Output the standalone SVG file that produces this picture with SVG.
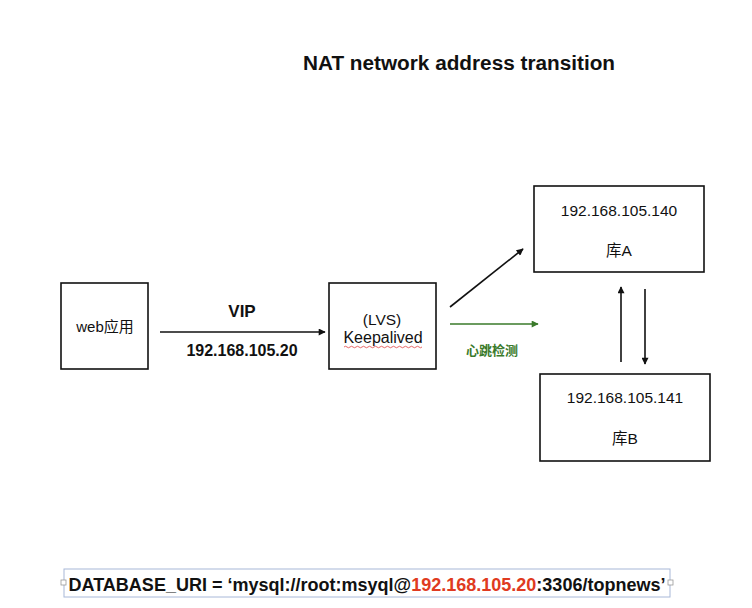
<svg xmlns="http://www.w3.org/2000/svg" width="752" height="608" viewBox="0 0 752 608">
<defs>
<style>
.box{fill:#fff;stroke:#111;stroke-width:1.6}
.t{font-family:"Liberation Sans","Noto Sans CJK SC",Arial,sans-serif;fill:#111;text-anchor:middle}
.b{font-weight:bold}
.ln{stroke:#111;stroke-width:1.6;fill:none}
.gl{stroke:#3a7a2a;stroke-width:1.6;fill:none}
</style>
<marker id="ah" viewBox="0 0 10 10" refX="9" refY="5" markerWidth="8" markerHeight="7" orient="auto" markerUnits="userSpaceOnUse"><path d="M0,0 L10,5 L0,10 z" fill="#111"/></marker>
<marker id="ahg" viewBox="0 0 10 10" refX="9" refY="5" markerWidth="8" markerHeight="7" orient="auto" markerUnits="userSpaceOnUse"><path d="M0,0 L10,5 L0,10 z" fill="#3a7a2a"/></marker>
</defs>
<rect width="752" height="608" fill="#fff"/>
<text class="t b" x="459" y="70" font-size="20" textLength="312" lengthAdjust="spacingAndGlyphs">NAT network address transition</text>

<g id="web">
<rect class="box" x="61" y="283" width="87" height="86"/>
<text class="t" x="105" y="332" font-size="15">web应用</text>
</g>
<g id="lvs">
<rect class="box" x="329" y="283" width="107" height="86"/>
<text class="t" x="382" y="325" font-size="15.5">(LVS)</text>
<text class="t" x="383" y="343" font-size="16">Keepalived</text>
<path d="M344,347 q1.5,-1.5 3,0 t3,0 t3,0 t3,0 t3,0 t3,0 t3,0 t3,0 t3,0 t3,0 t3,0 t3,0 t3,0 t3,0 t3,0 t3,0 t3,0 t3,0 t3,0 t3,0 t3,0 t3,0 t3,0 t3,0 t3,0 t3,0" fill="none" stroke="#e04040" stroke-width="0.8"/>
</g>
<g id="dbA">
<rect class="box" x="534" y="186" width="170" height="86"/>
<text class="t" x="619" y="216" font-size="15.5">192.168.105.140</text>
<text class="t" x="619" y="256" font-size="15.5">库A</text>
</g>
<g id="dbB">
<rect class="box" x="540" y="374" width="170" height="87"/>
<text class="t" x="625" y="403" font-size="15.5">192.168.105.141</text>
<text class="t" x="625" y="444" font-size="15.5">库B</text>
</g>

<g id="connectors">
<line class="ln" x1="160" y1="332" x2="325" y2="332" marker-end="url(#ah)"/>
<text class="t b" x="242" y="317" font-size="17">VIP</text>
<text class="t b" x="242" y="356" font-size="16">192.168.105.20</text>
<line class="ln" x1="450" y1="307" x2="523" y2="249" marker-end="url(#ah)"/>
<line class="gl" x1="450" y1="324" x2="538" y2="324" marker-end="url(#ahg)"/>
<text class="t b" x="492" y="355" font-size="13" style="fill:#3a7a2a">心跳检测</text>
<line class="ln" x1="621" y1="362" x2="621" y2="287" marker-end="url(#ah)"/>
<line class="ln" x1="645" y1="289" x2="645" y2="364" marker-end="url(#ah)"/>
</g>

<g id="uri">
<rect x="64" y="569" width="606" height="28" fill="#fff" stroke="#a8b8d8" stroke-width="1"/>
<rect x="61" y="580" width="5" height="5" fill="#fff" stroke="#999" stroke-width="0.8"/>
<rect x="668" y="580" width="5" height="5" fill="#fff" stroke="#999" stroke-width="0.8"/>
<text class="t b" x="367" y="591" font-size="18" textLength="597" lengthAdjust="spacingAndGlyphs">DATABASE_URI = ‘mysql://root:msyql@<tspan fill="#e03a20">192.168.105.20</tspan>:3306/topnews’</text>
</g>
</svg>
